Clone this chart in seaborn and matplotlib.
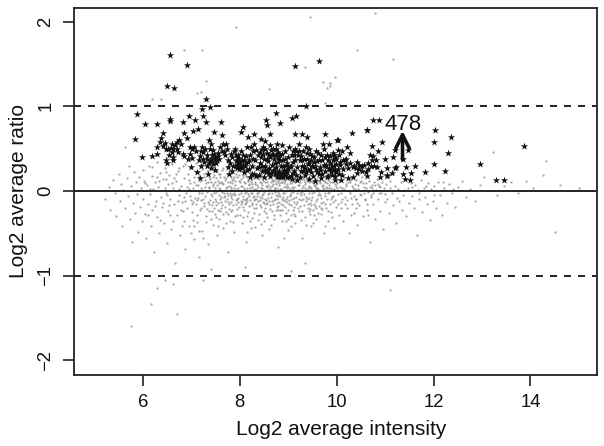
# MA plot: log2 ratio against log2 intensity, regulated genes starred
import numpy as np
import pandas as pd
import seaborn as sns
import matplotlib.pyplot as plt

x_ticks = [6, 8, 10, 12, 14]
y_ticks = [-2, -1, 0, 1, 2]
x_label = 'Log2 average intensity'
y_label = 'Log2 average ratio'
count_label = '478'

# stars (intensity, ratio)
stars_upper = [(6.56,1.6),(6.92,1.49),(6.5,1.24),(6.64,1.22),(7.3,1.08),(7.23,.97),(7.39,.99),(5.89,.905),(6.04,.787),(6.29,.787),(6.56,.854),(6.57,.82),(6.83,.81),(6.96,.885),(7.07,.835),(7.25,.88),(7.31,.815),(7.61,.815),(7.13,.736),(7.03,.712),(6.85,.685),(6.42,.685),(5.84,.61),(7.46,.7),(7.64,.665),(8.06,.755),(8.02,.7),(8.3,.677),(8.17,.634),(8.54,.834),(8.56,.775),(8.75,.925),(8.83,.807),(8.63,.673),(9.08,.862),(9.16,.882),(9.36,1.007),(9.14,1.476),(9.64,1.535),(9.14,.669),(9.28,.673),(9.38,.633),(9.76,.669),(10.01,.6),(8.43,.61),(8.52,.59),(5.99,.397),(6.19,.409),(6.29,.433)]
stars_right = [(10.75,.842),(10.88,.838),(10.62,.716),(10.63,.72),(10.32,.685),(10.02,.602),(10.93,.574),(10.72,.535),(10.22,.523),(10.86,.472),(11.2,.48),(11.48,.48),(11.16,.401),(10.99,.374),(10.69,.421),(10.76,.417),(10.81,.366),(10.64,.334),(10.28,.444),(11.38,.374),(12.03,.724),(12.01,.578),(12.36,.633),(12.3,.444),(12.0,.322),(12.95,.322),(12.24,.236),(11.82,.22),(11.62,.291),(11.43,.287),(11.54,.212),(11.38,.204),(11.42,.145),(11.52,.125),(11.2,.275),(11.22,.28),(11.05,.275),(11.15,.216),(11.03,.185),(11.05,.18),(10.89,.169),(10.84,.287),(10.63,.173),(10.65,.26),(10.53,.236),(10.43,.216),(10.52,.295),(10.43,.346),(10.33,.283),(10.24,.267),(10.14,.255),(10.33,.165),(10.23,.157),(10.1,.13),(9.96,.181),(10.13,.366),(10.19,.374),(9.95,.425),(10.02,.484),(10.11,.472),(9.92,.444),(9.85,.555),(13.29,.133),(13.46,.133),(13.86,.531),(10.17,.36),(10.04,.43),(9.97,.4),(9.99,.38),(10.06,.34),(10.36,.29),(10.47,.31)]
stars_band_6_8 = [(6.38,.62),(6.36,.58),(6.3,.52),(6.42,.53),(6.48,.5),(6.52,.5),(6.58,.51),(6.62,.49),(6.6,.55),(6.7,.58),(6.75,.6),(6.78,.56),(6.92,.62),(6.98,.52),(7.02,.5),(7.05,.52),(6.48,.36),(6.5,.33),(6.63,.4),(6.62,.36),(6.82,.44),(6.84,.41),(6.93,.38),(7.02,.39),(6.6,.46),(6.55,.42),(7.0,.28),(7.12,.22),(7.18,.15),(7.2,.3),(7.15,.36),(7.18,.41),(7.1,.47),(7.22,.52),(7.28,.5),(7.25,.46),(7.32,.43),(7.38,.5),(7.4,.55),(7.36,.6),(7.45,.48),(7.42,.42),(7.38,.36),(7.32,.3),(7.4,.27),(7.35,.2),(7.44,.32),(7.5,.4),(7.55,.45),(7.58,.38),(7.52,.33),(7.48,.25),(7.6,.52),(7.63,.47),(7.66,.56),(7.72,.55),(7.7,.42),(7.75,.28),(7.78,.2),(7.84,.24),(7.8,.33),(7.85,.4),(7.88,.47),(7.92,.3),(7.95,.36),(7.93,.42),(7.9,.5),(7.98,.26),(7.98,.33),(7.96,.39)]
stars_band_8_9 = [(8.02,.47),(8.05,.36),(8.04,.27),(8.08,.22),(8.1,.3),(8.12,.41),(8.16,.52),(8.18,.34),(8.2,.26),(8.22,.42),(8.25,.3),(8.28,.47),(8.3,.2),(8.32,.36),(8.35,.27),(8.37,.42),(8.4,.19),(8.42,.33),(8.45,.5),(8.47,.23),(8.5,.38),(8.5,.17),(8.52,.29),(8.55,.22),(8.56,.45),(8.58,.35),(8.6,.27),(8.62,.18),(8.63,.54),(8.66,.42),(8.67,.31),(8.68,.24),(8.7,.38),(8.72,.2),(8.74,.28),(8.75,.5),(8.76,.56),(8.78,.46),(8.79,.16),(8.8,.34),(8.81,.24),(8.83,.19),(8.84,.42),(8.85,.29),(8.87,.21),(8.88,.54),(8.89,.17),(8.9,.36),(8.92,.25),(8.93,.47),(8.94,.2),(8.95,.31),(8.97,.16),(8.98,.22),(8.99,.4),(8.53,.25),(8.6,.21),(8.71,.25),(8.82,.21),(8.91,.21),(8.96,.24),(8.2,.37),(8.15,.25),(8.07,.42),(8.33,.48),(8.46,.3)]
stars_band_9_10 = [(9.02,.52),(9.03,.28),(9.05,.18),(9.07,.42),(9.08,.14),(9.1,.34),(9.12,.24),(9.14,.5),(9.16,.19),(9.18,.28),(9.2,.42),(9.22,.56),(9.24,.36),(9.25,.16),(9.27,.23),(9.3,.47),(9.32,.3),(9.34,.19),(9.36,.52),(9.38,.38),(9.4,.25),(9.42,.14),(9.44,.33),(9.46,.44),(9.48,.22),(9.5,.29),(9.52,.18),(9.54,.4),(9.56,.12),(9.58,.26),(9.6,.35),(9.62,.45),(9.64,.2),(9.66,.28),(9.68,.15),(9.7,.37),(9.72,.55),(9.74,.5),(9.76,.24),(9.78,.31),(9.8,.42),(9.82,.18),(9.84,.27),(9.86,.33),(9.88,.22),(9.9,.3),(9.92,.26),(9.94,.29),(9.96,.24),(9.98,.32),(9.3,.24),(9.35,.27),(9.45,.26),(9.55,.3),(9.65,.25),(9.75,.29),(9.85,.26),(9.15,.37),(9.06,.3),(9.28,.36)]
# the clumps in the band, where stars pile onto each other
stars_clumps = [(7.44,.39),(7.47,.44),(7.41,.35),(7.53,.37),(7.49,.36),(7.56,.41),(7.33,.38),(7.36,.33),(7.92,.35),(7.95,.31),(7.99,.38),(8.01,.33),(8.03,.3),(7.97,.42),(8.06,.31),(8.0,.28),(8.09,.37),(7.94,.27),(8.13,.33),(8.62,.4),(8.65,.48),(8.69,.44),(8.73,.33),(8.76,.22),(8.78,.39),(8.8,.19),(8.84,.36),(8.86,.17),(8.88,.44),(8.9,.3),(8.93,.38),(8.95,.23),(8.98,.33),(9.0,.27),(9.02,.17),(8.77,.18),(8.74,.43),(8.69,.5),(8.6,.43),(8.56,.38),(8.57,.24),(8.64,.21),(8.48,.44),(8.44,.4),(8.41,.46),(8.52,.5),(8.48,.52),(8.39,.28),(9.22,.47),(9.26,.41),(9.29,.3),(9.33,.38),(9.36,.22),(9.39,.45),(9.41,.32),(9.43,.5),(9.47,.36),(9.5,.41),(9.53,.34),(9.57,.47),(9.6,.22),(9.63,.37),(9.67,.42),(9.7,.2),(9.73,.31),(9.77,.4),(9.8,.16),(9.83,.36),(9.87,.41),(9.9,.19),(9.93,.36),(9.96,.13),(9.99,.22),(10.02,.26),(10.05,.2),(10.08,.31),(10.11,.19),(9.19,.13),(9.13,.43),(9.1,.47),(9.09,.21),(9.17,.47),(8.24,.52),(8.27,.38),(8.3,.55),(8.34,.18),(8.26,.2),(8.22,.16),(7.68,.46),(7.74,.5),(7.76,.36),(7.82,.44),(7.86,.3),(7.24,.38),(7.27,.34),(7.21,.47),(6.97,.44),(6.7,.5),(6.72,.46),(6.66,.54),(6.45,.57),(10.2,.32),(10.28,.33),(10.4,.27),(10.46,.26),(10.56,.31),(10.6,.22),(10.7,.3),(10.74,.36),(10.78,.3),(10.92,.22)]

# grey spots, one rough list per intensity band
grey_low = [(5.22,-.1),(5.3,.05),(5.33,-.22),(5.38,.13),(5.42,-.02),(5.45,-.3),(5.5,.2),(5.52,-.12),(5.55,.08),(5.58,-.42),(5.6,.01),(5.63,.52),(5.64,-.2),(5.68,.15),(5.7,-.06),(5.72,.3),(5.74,-.33),(5.76,.06),(5.78,-.6),(5.8,-.14),(5.82,.22),(5.84,-.26),(5.86,.1),(5.88,-.04),(5.9,-.48),(5.92,.17),(5.94,-.19),(5.96,.03),(5.98,-.36),(6.0,.25),(6.01,-.09),(6.03,.12),(6.05,-.27),(6.07,-.55),(6.09,.07),(6.1,-.15),(6.12,.3),(6.14,-.04),(6.16,-.41),(6.18,.18),(6.2,-.22),(6.21,.02),(6.23,-.72),(6.25,.11),(6.27,-.12),(6.29,.34),(6.3,-.31),(6.32,.05),(6.34,-.5),(6.36,.21),(6.38,-.07),(6.4,-.19),(6.42,.14),(6.44,-.38),(6.46,.27),(6.47,-.02),(6.49,-.62),(6.51,.08),(6.53,-.24),(6.55,.19),(6.57,-.1),(6.59,-.45),(6.6,.32),(6.62,.03),(6.64,-.16),(6.66,-.85),(6.68,.12),(6.7,-.29),(6.72,.23),(6.74,-.05),(6.76,-.52),(6.78,.06),(6.8,-.13),(6.82,.29),(6.84,-.35),(6.86,.15),(6.88,-.68),(6.9,-.02),(6.92,-.2),(6.94,.2),(6.96,-.42),(6.98,.09),(6.99,-.11)]
grey_7_8 = [(7.01,.28),(7.02,-.25),(7.03,.04),(7.05,-.57),(7.06,.16),(7.07,-.08),(7.09,.33),(7.1,-.16),(7.11,-.37),(7.13,.07),(7.14,.22),(7.15,-.03),(7.17,-.78),(7.18,-.22),(7.19,.12),(7.2,-.11),(7.22,.26),(7.23,-.47),(7.24,.01),(7.26,-.18),(7.27,.17),(7.28,-.06),(7.3,-.3),(7.31,.09),(7.32,.24),(7.34,-.13),(7.35,-.63),(7.36,.03),(7.37,-.24),(7.39,.14),(7.4,-.04),(7.41,.3),(7.43,-.17),(7.44,-.4),(7.45,.06),(7.47,.19),(7.48,-.09),(7.49,-.27),(7.5,.11),(7.52,-.01),(7.53,-.52),(7.54,.23),(7.56,-.14),(7.57,.04),(7.58,-.33),(7.6,.16),(7.61,-.07),(7.62,-.2),(7.64,.09),(7.65,.27),(7.66,-.44),(7.67,-.02),(7.69,.13),(7.7,-.12),(7.71,-.25),(7.73,.05),(7.74,.2),(7.75,-.72),(7.76,-.05),(7.78,-.16),(7.79,.1),(7.8,-.35),(7.81,.02),(7.83,.25),(7.84,-.1),(7.85,-.22),(7.87,.14),(7.88,-.03),(7.89,-.48),(7.9,.07),(7.92,-.15),(7.93,.2),(7.94,-.28),(7.95,.01),(7.97,-.08),(7.98,.12),(7.99,-.19),(7.04,-.13),(7.16,.0),(7.25,-.09),(7.33,-.01),(7.42,-.06),(7.51,-.12),(7.59,.02),(7.68,-.07),(7.77,.06),(7.86,-.04),(7.96,.04),(7.55,.12),(7.72,.15),(7.82,-.13),(7.91,-.05)]
grey_8_9 = [(8.01,.23),(8.02,-.02),(8.03,-.12),(8.04,-.38),(8.05,.06),(8.06,.16),(8.07,-.06),(8.08,-.23),(8.09,.1),(8.1,-.15),(8.11,.01),(8.12,-.6),(8.13,.18),(8.14,-.09),(8.15,-.3),(8.16,.04),(8.17,.13),(8.18,-.04),(8.19,-.18),(8.2,.08),(8.21,-.11),(8.22,.21),(8.23,-.02),(8.24,-.44),(8.25,.05),(8.26,-.14),(8.27,.15),(8.28,-.07),(8.29,-.26),(8.3,.02),(8.31,.11),(8.32,-.1),(8.33,.19),(8.34,-.2),(8.35,-.03),(8.36,.07),(8.37,-.34),(8.38,-.12),(8.39,.14),(8.4,.0),(8.41,-.07),(8.42,-.17),(8.43,.09),(8.44,.22),(8.45,-.05),(8.46,-.52),(8.47,.03),(8.48,-.13),(8.49,.12),(8.5,-.24),(8.51,-.01),(8.52,.17),(8.53,-.09),(8.54,.06),(8.55,-.16),(8.56,-.31),(8.57,.1),(8.58,-.04),(8.59,.01),(8.6,-.12),(8.61,.15),(8.62,-.21),(8.63,.05),(8.64,-.07),(8.65,-.4),(8.66,.13),(8.67,-.02),(8.68,-.15),(8.69,.08),(8.7,-.28),(8.71,.02),(8.72,.18),(8.73,-.1),(8.74,-.05),(8.75,.11),(8.76,-.19),(8.77,.04),(8.78,-.66),(8.79,-.01),(8.8,.14),(8.81,-.13),(8.82,.07),(8.83,-.23),(8.84,-.06),(8.85,.1),(8.86,.02),(8.87,-.35),(8.88,-.09),(8.89,.16),(8.9,-.17),(8.91,.05),(8.92,-.03),(8.93,-.12),(8.94,.12),(8.95,-.26),(8.96,.0),(8.97,.08),(8.98,-.07),(8.99,-.46)]
grey_9_10 = [(9.01,.13),(9.02,-.15),(9.03,.02),(9.04,-.05),(9.06,-.29),(9.07,.09),(9.08,-.1),(9.09,.17),(9.1,-.01),(9.12,-.19),(9.13,.05),(9.14,-.38),(9.15,.12),(9.16,-.07),(9.18,.01),(9.19,-.13),(9.2,.19),(9.22,-.24),(9.23,.07),(9.24,-.03),(9.25,.1),(9.27,-.11),(9.28,-.56),(9.29,.04),(9.3,.15),(9.32,-.17),(9.33,-.04),(9.34,.08),(9.35,-.31),(9.37,.01),(9.38,.13),(9.39,-.09),(9.4,-.2),(9.42,.06),(9.43,-.02),(9.44,.17),(9.45,-.14),(9.47,-.42),(9.48,.03),(9.49,.11),(9.5,-.07),(9.52,-.23),(9.53,.07),(9.54,-.01),(9.55,.14),(9.57,-.12),(9.58,-.33),(9.59,.04),(9.6,.09),(9.62,-.05),(9.63,-.18),(9.64,.12),(9.65,.01),(9.67,-.27),(9.68,-.08),(9.69,.06),(9.7,.16),(9.72,-.13),(9.73,-.5),(9.74,.02),(9.75,-.03),(9.77,.1),(9.78,-.2),(9.79,.05),(9.8,-.09),(9.82,.13),(9.83,-.36),(9.84,-.01),(9.85,.07),(9.87,-.15),(9.88,.03),(9.89,-.25),(9.9,.11),(9.92,-.06),(9.93,.01),(9.94,-.44),(9.95,.15),(9.97,-.11),(9.98,.06),(9.99,-.19)]
grey_10_11 = [(10.01,.09),(10.03,-.04),(10.05,-.28),(10.07,.12),(10.09,-.13),(10.11,.03),(10.13,-.35),(10.15,.17),(10.17,-.07),(10.19,.06),(10.21,-.2),(10.23,.1),(10.25,-.5),(10.27,-.02),(10.29,.14),(10.31,-.15),(10.33,.04),(10.35,-.26),(10.37,.08),(10.39,-.09),(10.41,.13),(10.43,-.4),(10.45,.02),(10.47,-.17),(10.49,.1),(10.51,-.05),(10.53,.16),(10.55,-.3),(10.57,.05),(10.59,-.11),(10.61,.09),(10.63,-.22),(10.65,-.01),(10.67,.12),(10.69,-.6),(10.71,-.07),(10.73,.04),(10.75,-.16),(10.77,.1),(10.79,-.33),(10.81,.01),(10.83,.14),(10.85,-.1),(10.87,.06),(10.89,-.24),(10.91,-.03),(10.93,.11),(10.95,-.45),(10.97,.03),(10.99,-.13),(10.1,-.2),(10.26,.0),(10.4,-.1),(10.56,-.02),(10.72,.07),(10.88,-.02)]
grey_high = [(11.02,.08),(11.05,-.09),(11.08,-.26),(11.11,.12),(11.14,-.03),(11.17,-.17),(11.2,.06),(11.23,-.38),(11.26,.02),(11.29,-.12),(11.32,.1),(11.35,-.22),(11.38,-.05),(11.41,.14),(11.44,-.3),(11.47,.04),(11.5,-.14),(11.53,.09),(11.56,-.06),(11.59,-.2),(11.62,.07),(11.65,-.52),(11.68,.01),(11.71,-.1),(11.74,.13),(11.77,-.25),(11.8,.03),(11.83,-.07),(11.86,-.16),(11.89,.09),(11.92,-.34),(11.95,.02),(11.98,-.12),(12.02,.06),(12.06,-.2),(12.1,.1),(12.14,-.05),(12.18,-.28),(12.22,.04),(12.27,-.14),(12.32,.08),(12.38,-.03),(12.44,-.19),(12.5,.05),(12.58,.12),(12.66,-.07),(12.75,.02),(12.85,-.12),(12.95,.07),(13.05,.16),(13.22,.46),(13.3,-.05),(13.45,.06),(13.6,.1),(13.75,-.02),(13.9,.12),(14.05,.04),(14.25,.19),(14.32,.35),(14.5,-.48),(14.6,.07),(15.0,.03)]
grey_outliers = [(5.75,-1.6),(6.17,-1.33),(6.7,-1.45),(6.3,-1.15),(6.45,-1.05),(6.62,-1.1),(7.25,-1.05),(11.1,-1.17),(9.05,-.95),(8.1,-.9),(9.35,-.85),(7.4,-.92),(7.23,1.665),(9.34,1.46),(9.71,1.29),(9.87,1.27),(9.81,1.21),(7.12,1.16),(7.2,1.17),(6.2,1.09),(6.38,1.09),(9.77,1.04),(10.43,1.665),(11.16,1.555),(9.97,1.34),(9.87,1.24),(7.93,1.94),(9.45,2.05),(10.8,2.1),(8.6,1.2),(6.85,1.66),(7.3,1.3)]
# the thick middle of the cloud, just around the zero line
grey_core_a = [(7.53,.07),(8.42,-.11),(7.88,.17),(9.13,-.08),(8.07,-.19),(8.95,.06),(7.64,-.17),(9.41,.03),(8.31,.08),(7.22,-.02),(8.76,-.09),(9.68,-.14),(8.18,.12),(7.41,.11),(9.25,-.18),(8.54,.14),(7.95,-.21),(8.87,.11),(9.55,.06),(7.71,.04),(8.63,-.17),(9.82,-.03),(8.03,.06),(7.33,-.21),(9.04,.09),(8.25,-.17),(8.72,-.01),(7.84,.09),(9.36,-.12),(8.47,-.08),(7.59,-.09),(9.71,.07),(8.13,-.01),(8.9,-.07),(7.47,-.03),(9.18,.14),(8.34,-.15),(7.76,-.13),(8.59,.07),(9.48,-.17),(7.99,-.04),(8.81,.09),(9.06,-.03),(8.21,.03),(7.66,.08),(9.6,-.1),(8.44,.03),(7.29,.05),(8.68,.12),(9.31,.06),(7.91,.12),(8.12,-.14),(8.98,-.13),(9.77,-.06),(7.56,-.22),(8.51,-.14),(9.22,.01),(7.81,-.07),(8.37,.05),(8.85,-.16),(9.52,.11),(8.02,.14),(7.38,-.11),(9.08,.05),(8.27,.01),(7.69,-.19),(8.74,.08),(9.44,-.08),(8.16,-.08),(7.93,.01),(8.6,-.03),(9.85,.04),(8.92,.13),(7.49,.03),(9.16,-.16),(8.41,.11),(7.74,-.03),(8.65,.1),(9.64,-.02),(8.09,.04),(7.27,-.14),(8.83,.02),(9.34,.11),(8.29,-.11),(7.62,.11),(8.56,.05),(9.01,-.11),(7.86,-.17),(9.73,.12),(8.2,-.06),(7.44,.08),(8.97,.03),(8.38,-.02),(9.27,-.05),(7.98,.19),(8.7,-.11),(9.58,.03),(8.11,.09),(7.79,-.02),(8.49,-.04),(9.9,-.07),(8.79,.12),(7.35,.1),(9.11,.02),(8.24,.13),(7.57,-.05),(8.62,.02),(9.39,.14),(8.05,-.13),(7.83,.05),(8.89,-.02),(9.66,.09),(8.33,.02),(7.51,.15),(8.77,-.14),(9.2,.07),(8.15,.16),(7.73,-.1),(8.53,.1),(9.5,-.03),(7.97,-.13)]
grey_core_b = [(10.15,.02),(7.1,.07),(6.85,-.07),(8.94,-.19),(10.35,-.06),(6.6,.09),(7.21,-.2),(9.95,.02),(10.6,.03),(6.95,.13),(7.43,-.24),(8.28,.18),(9.02,.16),(10.05,.13),(6.72,-.12),(7.6,.2),(8.4,-.27),(9.29,-.24),(10.22,-.11),(6.5,-.05),(7.16,.18),(7.85,.21),(8.66,-.24),(9.46,-.21),(10.44,.07),(6.33,.12),(7.02,-.16),(7.75,-.27),(8.58,.19),(9.62,-.26),(10.7,-.05),(6.15,.02),(6.92,.05),(7.52,-.31),(8.1,.2),(8.84,-.29),(9.75,-.15),(10.9,.05),(6.42,-.14),(7.08,.24),(7.9,-.3),(8.72,.16),(9.58,-.2),(10.12,-.09),(6.78,-.22),(7.37,.16),(8.17,-.25),(9.1,-.22),(9.92,-.13),(10.5,.12),(6.25,-.18),(7.26,.2),(8.0,-.28),(8.9,.15),(9.4,.13),(10.32,.06),(6.56,-.29),(7.46,-.2),(8.35,.15),(9.0,-.33),(9.8,.09),(10.62,-.15),(6.68,.2),(7.12,-.29),(7.82,-.24),(8.46,.18),(9.24,.13),(9.86,.11),(6.05,.09),(6.83,-.24),(7.65,-.27),(8.26,-.32),(9.15,-.3),(10.02,-.16),(6.47,.14),(7.04,-.34),(7.95,.16),(8.8,-.22),(9.54,-.29),(10.27,.1),(6.1,-.28),(6.97,-.06),(7.58,.2),(8.5,-.35),(9.33,.16),(10.08,.05),(6.74,.27),(7.4,-.33),(8.14,.22),(8.88,.18),(9.7,-.21),(10.42,-.14),(6.35,-.34),(7.31,-.37),(8.06,-.31),(8.95,-.36),(9.6,.14),(10.75,-.02),(6.62,-.36),(7.19,.3),(7.78,.23),(8.7,-.33),(9.45,-.27),(10.18,-.16),(6.2,.28),(7.06,-.42),(7.72,-.38),(8.55,-.26),(9.12,-.27),(9.97,.08),(6.88,.32),(7.47,.27),(8.22,-.36),(9.26,-.34),(9.83,-.24),(10.55,.09),(6.48,.22),(7.15,-.47),(7.63,.25),(8.44,-.39),(9.05,-.42),(10.3,-.29),(6.8,-.42),(7.55,-.42),(8.32,-.43),(9.36,-.4),(9.9,-.31),(10.85,.08),(7.0,-.5),(7.87,-.37),(8.6,-.45),(9.52,-.38),(10.4,-.2),(7.25,-.55),(8.15,-.48),(8.92,-.55),(9.76,-.42),(10.65,-.28)]
grey_core_c = [(8.11,-.03),(8.36,-.06),(8.58,-.08),(8.82,-.04),(9.03,-.06),(9.28,-.01),(9.46,.05),(7.89,.04),(7.63,-.01),(8.23,.1),(8.45,.07),(8.67,.06),(8.91,.09),(9.14,.1),(9.37,-.07),(9.61,.02),(7.75,.11),(8.01,.1),(8.26,-.03),(8.5,.01),(8.73,.04),(8.96,-.09),(9.19,-.03),(9.42,.1),(9.66,-.05),(7.58,.09),(7.83,-.05),(8.06,-.09),(8.3,-.06),(8.55,-.11),(8.78,-.06),(9.0,.05),(9.23,-.1),(9.47,-.11),(9.72,.04),(7.45,-.13),(7.7,-.06),(7.94,-.09),(8.19,.07),(8.43,-.19),(8.66,-.12),(8.9,-.11),(9.13,-.13),(9.35,.04),(9.57,.08),(7.37,.05),(7.61,-.13),(7.85,.13),(8.1,-.11),(8.33,-.09),(8.57,-.14),(8.8,-.18),(9.05,-.17),(9.3,-.09),(9.53,-.15),(9.8,.03),(7.28,.13),(7.52,-.17),(7.77,-.21),(8.02,-.16),(8.25,.08),(8.48,.14),(8.71,.13),(8.95,.15),(9.17,.16),(9.41,-.15),(9.65,.12),(7.2,.04),(7.45,.17),(7.68,.17),(7.92,-.11),(8.16,-.12),(8.4,.16),(8.64,.16),(8.87,-.22),(9.1,.12),(9.32,.13),(9.56,-.18),(9.88,-.1),(7.14,-.08),(7.36,-.16),(7.6,-.24),(7.82,.17),(8.06,.19),(8.3,-.2),(8.52,-.2),(8.75,-.22),(8.99,-.23),(9.21,-.2),(9.43,-.24),(9.68,-.2),(10.0,.04),(10.1,-.03),(10.2,.08),(10.3,-.08),(10.38,.02),(10.48,-.04),(10.58,-.09),(10.68,.05),(10.8,.07),(11.0,-.04),(11.1,.03),(11.25,-.08),(11.4,.01),(11.55,.05),(11.7,-.03),(11.85,.06),(12.0,-.05),(12.2,.1),(12.4,.02),(6.3,.17),(6.45,.03),(6.55,-.17),(6.65,.15),(6.75,.02),(6.87,-.12),(6.95,.02),(7.05,.1),(7.12,-.11)]

stars = pd.DataFrame(stars_upper + stars_right + stars_band_6_8 + stars_band_8_9 + stars_band_9_10 + stars_clumps, columns=['a', 'm'])
grey = pd.DataFrame(grey_low + grey_7_8 + grey_8_9 + grey_9_10 + grey_10_11 + grey_high + grey_outliers + grey_core_a + grey_core_b + grey_core_c, columns=['a', 'm'])

sns.set_style('ticks')
plt.rcParams['font.family'] = ['Liberation Sans', 'DejaVu Sans']
ink = '#222222'

fig = plt.figure(figsize=(6.04, 4.46), dpi=100)
ax = fig.add_axes([74 / 604, 1 - 374.7 / 446, (597.3 - 74) / 604, (374.7 - 8) / 446])

sns.scatterplot(data=grey, x='a', y='m', ax=ax, color='#808080', s=2.6, marker='o', linewidth=0, alpha=.7, zorder=1)
sns.scatterplot(data=stars, x='a', y='m', ax=ax, color='#111111', s=30, marker='*', linewidth=0, zorder=2)

ax.axhline(0, color=ink, lw=1.4, zorder=3)
for level in (-1, 1):
    ax.axhline(level, color=ink, lw=1.4, dashes=(3.6, 3.6), zorder=3)

ax.annotate('', xy=(11.36, .71), xytext=(11.36, .37),
            arrowprops=dict(arrowstyle='->', color='#111111', lw=2.6, mutation_scale=24, shrinkA=0, shrinkB=0), zorder=4)
ax.text(11.37, .79, count_label, ha='center', va='center', fontsize=16, color='#111111')

ax.set_xlim(4.58, 15.38)
ax.set_ylim(-2.17, 2.16)
ax.set_xticks(x_ticks)
ax.set_yticks(y_ticks)
ax.set_yticklabels([str(t).replace('-', '\u2212') for t in y_ticks], rotation=90, va='center')
ax.tick_params(length=7.7, width=1.2, color=ink, labelsize=13.3, labelcolor='#111111', pad=6.5)
ax.set_xlabel(x_label, fontsize=15, color='#111111', labelpad=6, x=.51)
ax.set_ylabel(y_label, fontsize=15, color='#111111', labelpad=7)
for side in ax.spines.values():
    side.set_linewidth(1.3)
    side.set_color(ink)

fig.savefig('out.png', dpi=100)
